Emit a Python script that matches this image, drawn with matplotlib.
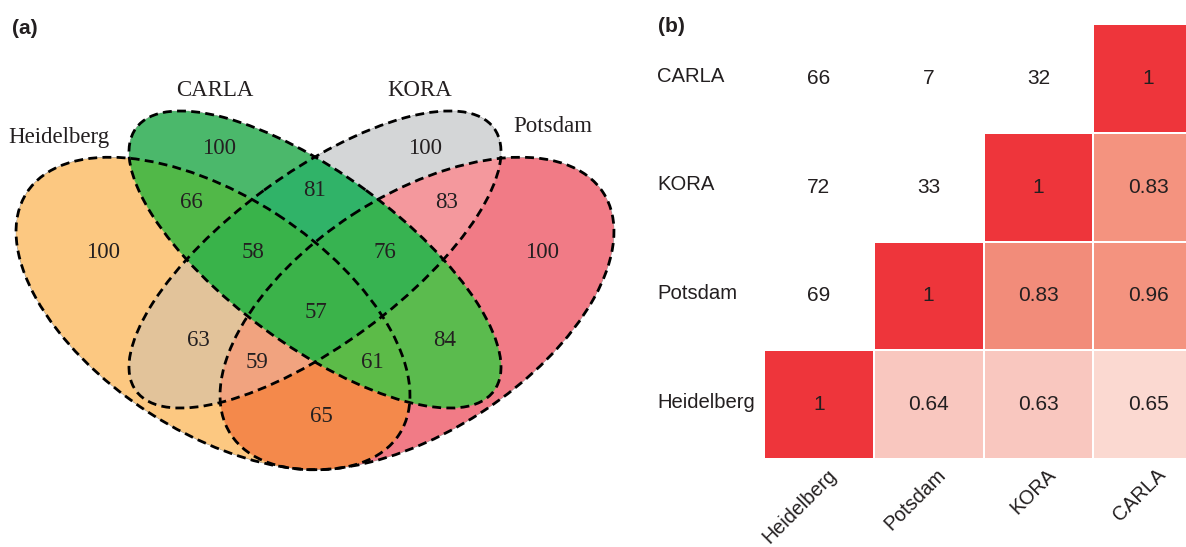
import numpy as np
import matplotlib.pyplot as plt
from matplotlib.patches import Ellipse
from matplotlib.colors import ListedColormap, to_rgba

# ---- data ----
sets = ["Heidelberg", "CARLA", "KORA", "Potsdam"]
# region keys: membership flags in order Heidelberg, CARLA, KORA, Potsdam
region_keys = ["1000", "0100", "0010", "0001",
               "1100", "0110", "0011", "1010", "0101", "1001",
               "1110", "0111", "1011", "1101", "1111"]
region_values = [100, 100, 100, 100, 66, 81, 83, 63, 84, 65, 58, 76, 59, 61, 57]
region_colors = ["#FCC981", "#4BB96B", "#D5D6D8", "#F17B86",
                 "#52B848", "#30B368", "#F4989D", "#E2C39B", "#5BBB4F", "#F48A4B",
                 "#3AB34A", "#37B352", "#F2A47F", "#5CBB48", "#3BB34A"]

heat_rows = ["CARLA", "KORA", "Potsdam", "Heidelberg"]
heat_cols = ["Heidelberg", "Potsdam", "KORA", "CARLA"]
heat_values = [[66, 7, 32, 1],
               [72, 33, 1, 0.83],
               [69, 1, 0.83, 0.96],
               [1, 0.64, 0.63, 0.65]]
heat_shade = [[0, 0, 0, 5],
              [0, 0, 5, 3],
              [0, 5, 4, 3],
              [5, 2, 2, 1]]
shade_colors = ["#FFFFFF", "#FBD9D1", "#F9C7BF", "#F4937F", "#F28C7A", "#EE353B"]

# ---- layout (pixel space of left panel) ----
ellipses = [  # cx, cy, semi-major, semi-minor, angle
    (213, 313.5, 222, 118, 33),
    (315, 259.5, 222, 86, 36.3),
    (315, 259.5, 222, 86, -36.3),
    (417, 313.5, 222, 118, -33),
]
set_label_pos = [(59, 138), (215, 90), (420, 90), (553, 126)]
region_label_pos = [(103, 252), (219, 148), (425, 148), (542, 252),
                    (191, 203), (315, 191), (447, 203), (198, 340), (445, 340), (321, 416),
                    (253, 252), (385, 252), (257, 362), (372, 362), (316, 312)]

fig = plt.figure(figsize=(11.86, 5.47), dpi=100)
serif = "Liberation Serif"
sans = "Liberation Sans"

# ---- (a) Venn ----
W, H = 640, 547
ax = fig.add_axes([0, 0, W / 1186, 1])
ax.set_xlim(0, W)
ax.set_ylim(H, 0)
ax.axis("off")

ss = 2
X, Y = np.meshgrid((np.arange(W * ss) + 0.5) / ss, (np.arange(H * ss) + 0.5) / ss)
code = np.zeros(X.shape, dtype=int)
for k, (cx, cy, a, b, ang) in enumerate(ellipses):
    t = np.deg2rad(ang)
    dx, dy = X - cx, Y - cy
    u = dx * np.cos(t) + dy * np.sin(t)
    v = -dx * np.sin(t) + dy * np.cos(t)
    inside = (u / a) ** 2 + (v / b) ** 2 <= 1
    code += inside.astype(int) << (3 - k)

img = np.zeros(X.shape + (4,))
for key, col in zip(region_keys, region_colors):
    img[code == int(key, 2)] = to_rgba(col)
ax.imshow(img, extent=(0, W, H, 0), origin="upper", interpolation="antialiased", zorder=1)

for (cx, cy, a, b, ang) in ellipses:
    ax.add_patch(Ellipse((cx, cy), 2 * a, 2 * b, angle=ang, fill=False, edgecolor="black",
                         linewidth=2.0, linestyle=(0, (3.2, 1.9)), zorder=3))

for name, (x, y) in zip(sets, set_label_pos):
    ax.text(x, y, name, ha="center", va="center", fontsize=16.5, family=serif, color="#231F20")
for val, (x, y) in zip(region_values, region_label_pos):
    ax.text(x, y, str(val), ha="center", va="center", fontsize=16.5, family=serif,
            color="#231F20", zorder=4)

fig.text(12 / 1186, 1 - 28 / 547, "(a)", fontsize=15, fontweight="bold", family=sans,
         ha="left", va="center", color="#231F20")

# ---- (b) heatmap ----
hx0, hx1, hy0, hy1 = 764, 1203, 24, 459
axh = fig.add_axes([hx0 / 1186, 1 - hy1 / 547, (hx1 - hx0) / 1186, (hy1 - hy0) / 547])
cmap = ListedColormap(shade_colors)
axh.pcolormesh(np.arange(5), np.arange(5), np.array(heat_shade), cmap=cmap,
               vmin=-0.5, vmax=len(shade_colors) - 0.5, edgecolors="white", linewidth=1.2)
axh.set_xlim(0, 4)
axh.set_ylim(4, 0)
axh.axis("off")

for i in range(4):
    for j in range(4):
        axh.text(j + 0.5, i + 0.5, f"{heat_values[i][j]:g}", ha="center", va="center",
                 fontsize=15, family=sans, color="#231F20")
for i, name in enumerate(heat_rows):
    axh.text(-0.975, i + 0.48, name, ha="left", va="center", fontsize=14.6, family=sans,
             color="#231F20", clip_on=False)
for j, name in enumerate(heat_cols):
    axh.text(j + 0.63, 4.12, name, ha="right", va="center", rotation=45, rotation_mode="anchor",
             fontsize=14.2, family=sans, color="#231F20", clip_on=False)

fig.text(658 / 1186, 1 - 27 / 547, "(b)", fontsize=15, fontweight="bold", family=sans,
         ha="left", va="center", color="#231F20")

fig.savefig("out.png", dpi=100)
